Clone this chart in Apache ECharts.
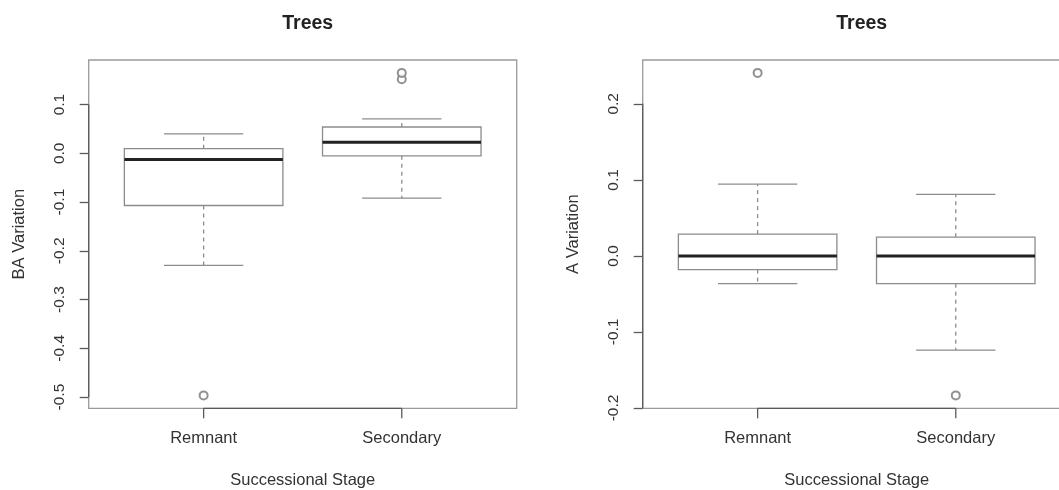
<!DOCTYPE html>
<html>
<head>
<meta charset="utf-8">
<title>Trees</title>
<script src="https://cdn.jsdelivr.net/npm/echarts@6/dist/echarts.min.js"></script>
<style>
  html, body { margin: 0; padding: 0; background: #fff; }
  #chart { width: 1059px; height: 490px; }
</style>
</head>
<body>
<div id="chart"></div>
<script>
// Successional stages (box positions 1 and 2)
const stages = ['Remnant', 'Secondary'];

// Basal-area variation: [lower whisker, Q1, median, Q3, upper whisker] per stage
const baStats = [
  [-0.230, -0.107, -0.0125, 0.0095, 0.040],
  [-0.092, -0.005, 0.0225, 0.054, 0.0705]
];
// Basal-area outliers: stage index and value
const baOutlierStage = [0, 1, 1];
const baOutlierValue = [-0.4965, 0.152, 0.165];
const baTicks = [-0.5, -0.4, -0.3, -0.2, -0.1, 0.0, 0.1];

// Abundance variation: [lower whisker, Q1, median, Q3, upper whisker] per stage
const aStats = [
  [-0.0365, -0.018, 0.0, 0.0286, 0.0945],
  [-0.124, -0.0365, 0.0, 0.0246, 0.081]
];
const aOutlierStage = [0, 1];
const aOutlierValue = [0.2407, -0.1835];
const aTicks = [-0.2, -0.1, 0.0, 0.1, 0.2];

const TEXT = '#333';
const FONT = '"Liberation Sans", Arial, Helvetica, sans-serif';
const BOX_LINE = '#8c8c8c';
const AXIS_LINE = '#5a5a5a';

// plotting range padded by 4% on each side, as base graphics does
function padRange(lo, hi) {
  const d = (hi - lo) * 0.04;
  return [lo - d, hi + d];
}
const xRange = padRange(0.5, stages.length + 0.5);
const xTicks = stages.map((s, i) => i + 1);

function yRange(stats, outliers) {
  const vals = outliers.slice();
  stats.forEach(s => vals.push(...s));
  return padRange(Math.min(...vals), Math.max(...vals));
}
const baRange = yRange(baStats, baOutlierValue);
const aRange = yRange(aStats, aOutlierValue);

function renderBox(params, api) {
  const x = api.value(0);
  const lo = api.value(1), q1 = api.value(2), med = api.value(3), q3 = api.value(4), hi = api.value(5);
  const halfBox = 0.4, halfCap = 0.2;
  const c = (xx, yy) => api.coord([xx, yy]);
  const tl = c(x - halfBox, q3), br = c(x + halfBox, q1);
  const solid = { stroke: BOX_LINE, lineWidth: 1.3, fill: null };
  const dashed = { stroke: BOX_LINE, lineWidth: 1.3, lineDash: [4, 4] };
  const seg = (a, b, style) => ({ type: 'line', shape: { x1: a[0], y1: a[1], x2: b[0], y2: b[1] }, style });
  return {
    type: 'group',
    children: [
      seg(c(x, q3), c(x, hi), dashed),
      seg(c(x, q1), c(x, lo), dashed),
      seg(c(x - halfCap, hi), c(x + halfCap, hi), solid),
      seg(c(x - halfCap, lo), c(x + halfCap, lo), solid),
      { type: 'rect', shape: { x: tl[0], y: tl[1], width: br[0] - tl[0], height: br[1] - tl[1] },
        style: { fill: '#fff', stroke: BOX_LINE, lineWidth: 1.3 } },
      seg(c(x - halfBox, med), c(x + halfBox, med), { stroke: '#222', lineWidth: 3 })
    ]
  };
}

// axis lines run from the first to the last tick only; bottom axis ticks hang below
function axisSegments(ticks, range) {
  return function (params, api) {
    const c = (xx, yy) => api.coord([xx, yy]);
    const style = { stroke: AXIS_LINE, lineWidth: 1.3 };
    const line = (a, b) => ({ type: 'line', shape: { x1: a[0], y1: a[1], x2: b[0], y2: b[1] }, style });
    const children = [
      line(c(xRange[0], ticks[0]), c(xRange[0], ticks[ticks.length - 1])),
      line(c(xTicks[0], range[0]), c(xTicks[xTicks.length - 1], range[0]))
    ];
    xTicks.forEach(t => {
      const p = c(t, range[0]);
      children.push(line(p, [p[0], p[1] + 10]));
    });
    return { type: 'group', children };
  };
}

function xAxisFor(gridIndex) {
  return {
    type: 'value', gridIndex, min: xRange[0], max: xRange[1],
    axisLine: { show: false, onZero: false },
    splitLine: { show: false },
    axisTick: { show: false },
    axisLabel: { customValues: xTicks, margin: 22, color: TEXT, fontSize: 16.5, fontFamily: FONT,
      formatter: v => stages[Math.round(v) - 1] },
    name: 'Successional Stage', nameLocation: 'middle', nameGap: 64,
    nameTextStyle: { color: TEXT, fontSize: 16.5, fontFamily: FONT }
  };
}

function yAxisFor(gridIndex, range, ticks, title) {
  return {
    type: 'value', gridIndex, min: range[0], max: range[1],
    axisLine: { show: false },
    splitLine: { show: false },
    axisTick: { show: true, customValues: ticks, length: 9, lineStyle: { color: AXIS_LINE, width: 1.3 } },
    axisLabel: { customValues: ticks, rotate: 90, margin: 21, color: TEXT, fontSize: 15.5, fontFamily: FONT,
      formatter: v => v.toFixed(1) },
    name: title, nameLocation: 'middle', nameGap: 61,
    nameTextStyle: { color: TEXT, fontSize: 16.5, fontFamily: FONT }
  };
}

function boxSeries(idx, stats) {
  return {
    type: 'custom', xAxisIndex: idx, yAxisIndex: idx,
    renderItem: renderBox,
    encode: { x: 0, y: [1, 2, 3, 4, 5] },
    data: stats.map((s, i) => [i + 1, ...s]),
    z: 3
  };
}

function outlierSeries(idx, stageIdx, values) {
  return {
    type: 'scatter', xAxisIndex: idx, yAxisIndex: idx,
    symbol: 'emptyCircle', symbolSize: 8,
    itemStyle: { color: '#777', borderColor: '#777', borderWidth: 1.2 },
    data: values.map((v, i) => [stageIdx[i] + 1, v]),
    z: 4
  };
}

function axisSeries(idx, ticks, range) {
  return {
    type: 'custom', xAxisIndex: idx, yAxisIndex: idx,
    renderItem: axisSegments(ticks, range),
    data: [[1, ticks[0]]],
    silent: true, clip: false,
    z: 5
  };
}

const gridBase = {
  top: 60, width: 428, height: 348.3, show: true,
  borderColor: '#9a9a9a', borderWidth: 1.3, backgroundColor: 'transparent',
  containLabel: false, outerBoundsMode: 'none'
};

const chart = echarts.init(document.getElementById('chart'), null, { renderer: 'canvas' });
chart.setOption({
  animation: false,
  backgroundColor: '#fff',
  title: [
    { text: 'Trees', left: 302.7, top: 9, textAlign: 'center',
      textStyle: { fontSize: 19.5, fontWeight: 'bold', color: '#222', fontFamily: FONT } },
    { text: 'Trees', left: 856.7, top: 9, textAlign: 'center',
      textStyle: { fontSize: 19.5, fontWeight: 'bold', color: '#222', fontFamily: FONT } }
  ],
  grid: [
    Object.assign({ left: 88.7 }, gridBase),
    Object.assign({ left: 642.7 }, gridBase)
  ],
  xAxis: [xAxisFor(0), xAxisFor(1)],
  yAxis: [
    yAxisFor(0, baRange, baTicks, 'BA Variation'),
    yAxisFor(1, aRange, aTicks, 'A Variation')
  ],
  series: [
    boxSeries(0, baStats),
    outlierSeries(0, baOutlierStage, baOutlierValue),
    axisSeries(0, baTicks, baRange),
    boxSeries(1, aStats),
    outlierSeries(1, aOutlierStage, aOutlierValue),
    axisSeries(1, aTicks, aRange)
  ]
});
</script>
</body>
</html>
